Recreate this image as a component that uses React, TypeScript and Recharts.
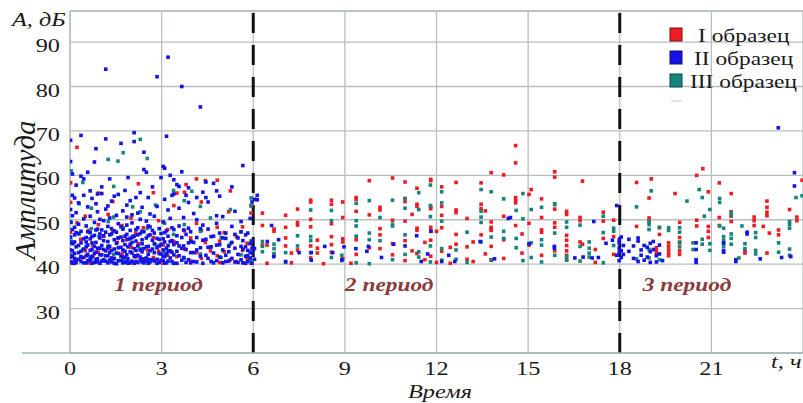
import React from "react";
import {
  ScatterChart,
  Scatter,
  XAxis,
  YAxis,
  CartesianGrid,
  ReferenceLine,
} from "recharts";

// hour ticks / amplitude ticks
const hourTicks = [0, 3, 6, 9, 12, 15, 18, 21];
const ampTicks = [30, 40, 50, 60, 70, 80, 90];
const periodNames = ["1 период", "2 период", "3 период"];
const periodCenters = [2.9, 10.45, 20.2];
const legendNames = ["I образец", "II образец", "III образец"];

// each row: [time, [amplitudes read at that time]]
const sampleI: [number, number[]][] = [
  [0.02, [58.3, 53.9, 47.2, 42.1]], [0.1, [44.8, 40.6]], [0.23, [66.3, 49.3]],
  [0.35, [45.6, 41.4]], [0.5, [50.8, 43.0]], [0.62, [47.6, 40.3]], [0.75, [44.2, 41.8]],
  [0.93, [56.0, 48.9, 42.7]], [1.1, [46.3, 40.8]], [1.25, [51.2, 43.5]],
  [1.4, [54.1, 47.4, 41.1]], [1.55, [44.9]], [1.7, [48.7, 42.3]], [1.85, [45.5, 40.5]],
  [2.0, [50.4, 43.8]], [2.15, [47.0, 41.6]], [2.24, [58.1, 44.6]], [2.4, [48.2, 40.9]],
  [2.55, [43.1]], [2.73, [56.1, 46.0, 41.5]], [2.9, [49.8, 42.9]], [3.05, [44.3, 40.2]],
  [3.2, [47.8, 42.0]], [3.4, [53.2, 45.1]], [3.5, [56.0, 41.7]], [3.75, [56.2, 47.5, 43.4]],
  [3.8, [57.9]], [3.95, [45.9, 40.7]], [4.14, [59.2, 49.2, 42.6]], [4.3, [54.0, 47.6, 41.3]],
  [4.43, [58.8, 44.9]], [4.6, [43.0]], [4.82, [58.9, 48.3, 41.9]], [4.9, [45.2, 40.4]],
  [5.05, [47.1, 42.8]], [5.2, [51.8, 44.0]], [5.25, [56.5, 41.0]], [5.45, [46.2, 40.6]],
  [5.65, [48.4, 43.1]], [5.8, [44.7, 41.2]], [5.93, [53.1, 51.5, 40.2]],
  [6.3, [51.5, 48.7, 44.3]], [6.45, [44.3, 40.2]], [6.68, [47.9, 47.4, 42.0]],
  [7.06, [51.0, 48.3, 45.9, 44.1]], [7.25, [42.5, 40.3]], [7.45, [52.4, 49.4, 48.8, 43.2]],
  [7.88, [54.4, 54.0, 50.1, 48.4, 44.1, 41.4]], [8.1, [45.4, 43.6, 42.5]], [8.3, [40.1]],
  [8.56, [54.4, 53.5, 49.1, 46.2, 44.4, 42.7]], [8.93, [54.0, 50.5, 45.7, 45.0, 41.2]],
  [9.2, [40.2]], [9.37, [55.0, 54.6, 51.9, 45.5, 42.2]], [9.8, [58.8, 51.1, 43.7]],
  [10.15, [52.8, 52.2, 48.0, 46.6, 43.5]], [10.56, [59.4, 49.9, 44.6, 42.1]],
  [10.97, [58.5, 54.8, 54.1, 49.7, 45.3, 40.8]], [11.2, [51.2, 43.0]],
  [11.36, [57.1, 53.5, 53.0, 48.1, 47.6, 42.4]], [11.62, [44.9, 41.0]],
  [11.81, [59.1, 58.8, 53.0, 52.5, 48.3, 47.5, 45.4, 41.8]], [12.0, [47.4, 40.4]],
  [12.17, [57.4, 53.0, 51.0, 48.2, 42.9]], [12.45, [43.8, 40.2]],
  [12.64, [58.4, 52.2, 51.6, 46.7, 44.5]], [13.0, [50.3, 43.9, 41.1]], [13.2, [45.0, 40.6]],
  [13.46, [58.3, 53.5, 52.5, 46.6]], [13.6, [52.0, 42.3]],
  [13.79, [60.6, 49.5, 48.3, 48.0, 47.6, 44.0, 40.9]], [14.2, [60.1, 50.8, 45.5, 41.3]],
  [14.59, [66.7, 62.8, 55.0, 54.4, 53.8, 48.7]], [14.8, [46.8, 42.5]],
  [15.03, [55.7, 49.2, 44.3]], [15.1, [56.8]], [15.44, [54.7, 50.5, 47.7, 47.2, 42.0]],
  [15.87, [60.8, 59.6, 52.4, 49.3, 48.3, 43.0]], [16.26, [51.9, 51.2, 46.5, 45.4, 44.2, 43.0, 42.0, 41.0]],
  [16.7, [50.5, 49.8, 45.0]], [16.78, [58.7, 44.5]], [17.2, [43.3, 40.4]],
  [17.46, [51.7, 49.7, 45.8]], [17.8, [49.9, 46.2, 42.2]],
  [18.55, [58.4, 48.5]], [18.96, [54.9, 50.4, 49.6]], [19.03, [59.2]],
  [19.2, [43.7, 43.0, 42.3]], [19.3, [48.2, 46.7]], [19.6, [44.8, 44.0, 43.2, 42.5, 41.9]],
  [19.81, [55.9]], [19.96, [49.4, 46.0, 44.8, 43.0, 42.2]], [20.52, [60.0, 49.9, 48.6]],
  [20.72, [61.5]], [20.9, [56.3, 48.5, 47.4, 46.0]], [21.26, [58.3, 50.5, 48.7]],
  [21.65, [55.9, 51.8, 50.8, 49.6]], [22.1, [43.0, 42.5]], [22.4, [50.6, 49.8, 48.7]],
  [22.7, [48.5]], [22.82, [54.2, 52.8, 51.7, 50.9, 42.5]], [22.9, [47.0]],
  [23.2, [47.7, 46.6]], [23.56, [52.3]], [23.8, [50.6, 49.8]], [23.97, [58.9]],
];

const sampleII: [number, number[]][] = [
  [0.02, [40.5, 43.2, 46.1, 49.5, 63.1, 67.9, 52.3, 41.6, 44.9]],
  [0.08, [41.8, 44.6, 47.8, 50.9, 60.3, 55.5, 40.2, 43.0]],
  [0.15, [40.2, 42.4, 45.0, 48.3, 54.9, 46.6, 41.3]],
  [0.2, [57.8, 51.6, 43.9, 41.0, 47.1, 40.4]],
  [0.28, [41.1, 46.9, 53.8, 49.0, 44.2, 42.6]],
  [0.36, [69.0, 40.6, 42.9, 44.8, 47.4, 59.8, 41.7]],
  [0.45, [50.2, 41.5, 45.7, 59.2, 55.5, 43.4, 40.3]],
  [0.53, [43.9, 46.0, 40.3, 48.6, 41.9, 45.0]],
  [0.58, [60.7, 42.2, 44.3, 52.9, 40.8, 47.3]],
  [0.66, [50.8, 40.9, 45.7, 47.1, 56.5, 43.1, 41.6]],
  [0.72, [41.7, 43.3, 54.8, 46.2, 40.2, 44.8]],
  [0.8, [63.0, 49.4, 40.4, 46.5, 42.4, 44.0]],
  [0.85, [66.0, 42.7, 44.9, 53.6, 41.1, 47.7]],
  [0.9, [55.8, 51.8, 41.2, 47.9, 43.6, 40.5]],
  [0.98, [43.6, 45.9, 40.2, 50.1, 42.1, 46.8]],
  [1.04, [57.4, 47.7, 42.1, 44.2, 55.9, 40.7]],
  [1.1, [49.8, 41.0, 46.4, 43.3, 45.3]],
  [1.17, [83.9, 68.2, 43.0, 40.7, 52.4, 41.9, 47.2]],
  [1.24, [48.5, 45.1, 41.9, 53.1, 40.3, 43.8]],
  [1.3, [59.2, 44.0, 42.6, 50.4, 40.9, 46.6]],
  [1.36, [40.5, 46.8, 54.2, 48.0, 43.1, 41.4]],
  [1.45, [55.3, 43.4, 45.5, 41.3, 40.2, 47.5]],
  [1.52, [47.2, 40.1, 44.7, 51.0, 42.5]],
  [1.58, [55.7, 42.4, 49.1, 40.8, 45.9, 43.7]],
  [1.67, [67.2, 46.1, 40.8, 43.8, 41.8, 48.4]],
  [1.73, [45.3, 41.6, 52.0, 47.9, 40.3, 43.2]],
  [1.8, [56.6, 42.9, 44.4, 40.4, 46.3, 41.5]],
  [1.86, [50.6, 46.7, 53.3, 48.8, 42.1, 40.6]],
  [1.9, [59.5, 41.2, 43.9, 45.6, 40.2]],
  [1.97, [45.8, 40.3, 47.6, 54.3, 42.8, 44.5]],
  [2.03, [42.5, 44.9, 49.3, 51.1, 40.7, 46.0]],
  [2.1, [69.6, 67.6, 41.8, 46.3, 43.5, 40.2]],
  [2.16, [43.1, 40.6, 45.2, 55.0, 47.8, 41.9]],
  [2.22, [48.2, 42.0, 44.1, 51.5, 40.4, 46.6]],
  [2.3, [56.1, 50.1, 40.9, 46.9, 43.2, 41.6]],
  [2.36, [42.8, 44.6, 40.5, 52.8, 47.4, 45.5]],
  [2.42, [65.2, 61.3, 47.3, 43.5, 41.2, 40.3]],
  [2.5, [60.7, 41.4, 45.9, 49.7, 43.9, 40.7]],
  [2.56, [42.2, 44.0, 40.2, 55.0, 46.4, 48.6]],
  [2.62, [46.6, 43.0, 48.4, 51.3, 41.0, 40.5]],
  [2.7, [57.4, 41.0, 45.4, 43.4, 47.6]],
  [2.76, [42.6, 40.7, 47.0, 50.8, 44.6]],
  [2.85, [82.2, 43.7, 41.1, 53.0, 45.8, 40.2]],
  [2.92, [45.6, 40.4, 48.0, 42.4, 44.1]],
  [2.98, [59.5, 42.3, 44.5, 46.9, 40.9]],
  [3.05, [62.0, 40.8, 43.2, 49.5, 45.7, 41.8]],
  [3.1, [61.6, 41.7, 45.0, 54.6, 40.3, 47.1]],
  [3.16, [68.8, 47.5, 40.3, 43.6, 42.2]],
  [3.21, [86.6, 42.9, 44.2, 52.2, 40.7, 46.3]],
  [3.28, [60.0, 50.3, 41.4, 43.0, 45.1]],
  [3.34, [55.5, 45.3, 40.6, 48.2, 42.7]],
  [3.4, [59.0, 47.8, 42.1, 55.8, 40.2, 44.4]],
  [3.5, [57.9, 44.8, 40.2, 46.4, 42.9]],
  [3.57, [57.5, 41.9, 48.6, 52.6, 44.1]],
  [3.66, [80.0, 60.8, 43.6, 40.9, 46.0]],
  [3.72, [50.5, 44.1, 41.5, 47.7]],
  [3.8, [55.5, 46.7, 40.4, 43.3]],
  [3.88, [57.2, 48.1, 41.0, 53.9, 44.8]],
  [3.95, [45.2, 40.3, 47.3, 42.6]],
  [4.05, [42.6, 44.9, 51.4, 40.6]],
  [4.15, [55.0, 40.5, 46.0, 50.0, 43.2]],
  [4.27, [75.4, 41.8, 43.7, 48.0]],
  [4.35, [56.2, 48.8, 40.2, 45.4]],
  [4.45, [58.5, 45.6, 42.0, 55.0]],
  [4.52, [54.0, 47.9, 41.3, 43.8]],
  [4.62, [43.9, 40.6, 46.2]],
  [4.7, [58.2, 46.3, 42.5, 40.3]],
  [4.8, [56.5, 49.2, 40.8, 50.9, 44.3]],
  [4.9, [55.3, 44.4, 41.6, 47.0]],
  [5.0, [43.2, 40.3, 50.7, 45.9]],
  [5.1, [45.8, 42.0, 47.0, 40.6]],
  [5.2, [40.7, 44.1, 42.8]],
  [5.3, [57.4, 41.3, 48.5, 44.9]],
  [5.4, [51.9, 43.6, 40.5, 46.7]],
  [5.5, [45.9, 42.2, 40.4]],
  [5.6, [49.6, 41.0, 44.0, 47.3]],
  [5.66, [62.2, 43.4, 40.3, 45.3]],
  [5.75, [46.6, 41.8, 43.9, 40.2]],
  [5.82, [47.0, 40.6, 43.1, 41.9]],
  [5.9, [50.3, 44.6, 41.4, 42.7]],
  [5.96, [54.0, 42.5, 40.2, 45.2, 43.6]],
  [6.04, [54.6, 43.5, 41.1]],
  [6.13, [55.5, 54.5]],
  [6.46, [45.1]], [6.6, [48.7]], [6.67, [41.7]], [6.83, [45.5]], [7.06, [40.6]],
  [7.5, [42.6]], [7.9, [42.6, 40.9]], [8.34, [44.0]], [8.6, [42.6]], [8.9, [41.0]],
  [8.97, [43.9]], [9.36, [43.5]], [9.72, [42.9]], [9.77, [44.0]], [10.2, [41.5]],
  [10.6, [44.5]], [10.97, [44.1]], [11.35, [46.4]], [11.5, [40.6]], [11.71, [42.3]],
  [11.82, [47.4]], [12.17, [40.6]], [12.4, [42.0]], [12.6, [40.6]], [13.43, [45.1]],
  [13.9, [41.2]], [14.35, [50.3]], [14.42, [50.5]], [15.03, [44.6]], [15.86, [44.0, 43.6]],
  [16.53, [41.4]], [16.8, [41.6]], [17.1, [41.4]], [17.15, [49.6]], [17.3, [41.5]],
  [17.55, [44.7]], [17.76, [45.4]], [17.9, [53.2, 42.0]],
  [17.98, [45.4, 43.6, 42.6, 44.8, 40.8]], [18.05, [46.1, 43.0, 41.5]], [18.12, [44.2, 42.2]],
  [18.3, [45.6, 42.9]], [18.45, [44.1, 41.3]], [18.6, [45.9, 45.2, 40.6]], [18.7, [43.2, 42.0]],
  [18.8, [44.2, 40.9]], [18.9, [43.8, 41.6]], [19.0, [44.7, 42.8, 40.4]], [19.1, [45.1, 43.3]],
  [19.2, [41.9, 40.5]], [19.3, [44.3, 42.3]], [19.4, [40.8]], [20.5, [44.8, 43.3, 41.0, 40.4]],
  [21.4, [44.8, 43.0, 42.7]], [21.8, [41.0, 40.6]], [22.17, [47.2, 46.8]], [22.6, [41.2]],
  [23.19, [70.7]], [23.3, [41.5]], [23.6, [41.7]], [23.72, [60.6, 57.6]],
];

const sampleIII: [number, number[]][] = [
  [0.04, [61.0, 49.4, 45.2, 42.0]], [0.3, [53.6, 46.8]], [0.42, [58.4, 43.3]],
  [0.7, [52.6, 48.0, 41.2]], [0.95, [46.2]], [1.25, [63.6, 49.6, 44.1]],
  [1.43, [57.5, 50.6, 42.2]], [1.57, [63.2, 45.9]], [1.74, [65.1, 48.2, 40.9]],
  [2.05, [52.9, 46.3]], [2.3, [68.1, 51.8, 43.5]], [2.53, [63.8, 48.1, 41.1]],
  [2.8, [53.3, 44.4]], [3.1, [49.2, 42.6]], [3.39, [56.6, 46.7]], [3.74, [54.3, 48.9, 41.3]],
  [3.99, [56.4, 45.0]], [4.27, [53.0, 47.4, 42.3]], [4.6, [50.4, 43.8]], [4.95, [46.0, 41.5]],
  [5.25, [52.3, 44.6]], [5.6, [47.3, 42.1]], [5.93, [54.9, 53.2, 45.2, 40.8]],
  [6.3, [45.1, 44.0, 42.8]], [6.68, [44.5, 43.5, 42.4]], [7.06, [42.6, 40.4]],
  [7.45, [46.4, 44.1]], [7.88, [52.2, 46.2, 45.3, 42.6]], [8.56, [52.1, 49.8, 41.5]],
  [8.9, [42.0, 40.8]], [9.37, [53.7, 49.8, 48.6, 46.3, 40.3]], [9.8, [54.3, 47.0, 45.5, 40.1]],
  [10.15, [50.5, 45.3]], [10.56, [54.4, 49.0, 48.6, 41.0]], [10.97, [54.7, 52.6, 46.6, 42.2]],
  [11.42, [56.1, 52.3, 42.8, 41.6]], [11.8, [57.8, 53.2, 50.7, 44.1, 40.5]],
  [12.17, [56.3, 53.8, 49.7, 43.5, 40.9]], [12.64, [43.2, 41.1]], [13.0, [47.2, 40.4]],
  [13.46, [56.8, 51.9, 50.6, 49.4, 45.0]], [13.79, [56.3, 46.1, 41.0]],
  [14.2, [54.7, 47.4, 45.8]], [14.61, [52.1, 45.8, 43.7]], [14.83, [55.9, 50.2, 40.8]],
  [15.1, [52.3, 44.8, 41.5]], [15.44, [52.8, 45.5, 44.3, 40.5]],
  [15.87, [53.6, 53.4, 47.0, 42.0]], [16.26, [49.5, 48.3, 41.8, 40.9]],
  [16.7, [48.8, 44.0, 40.7]], [17.0, [45.0, 43.6, 42.5, 41.6]], [17.46, [50.8, 47.1, 40.3]],
  [17.8, [48.1, 47.4, 44.2]],
  [18.55, [52.9, 41.2]], [18.96, [49.6, 48.9, 47.8, 43.3, 41.4]], [19.03, [56.5]],
  [19.3, [48.3, 41.0]], [19.6, [48.2, 47.6]], [19.96, [48.2, 47.2, 45.0, 43.9]],
  [20.2, [54.2]], [20.4, [44.8, 43.3]], [20.6, [56.8]], [20.7, [55.0, 45.6, 44.5]],
  [20.77, [50.8]], [20.95, [52.3, 44.6, 43.1]], [21.27, [54.8, 53.9, 48.6]],
  [21.4, [48.1, 46.2, 45.4, 44.6, 43.9]], [21.65, [51.6, 51.0, 46.8, 45.8, 44.5]],
  [21.9, [41.4]], [22.0, [48.6]], [22.1, [44.6, 43.5]], [22.45, [47.1, 46.0, 43.1, 42.3]],
  [23.2, [44.8, 42.7]], [23.56, [49.6, 48.9, 48.1, 43.4, 42.0]], [23.77, [55.0]],
  [23.97, [55.4]],
];

const toPoints = (rows: [number, number[]][]) =>
  rows.flatMap(([t, amps]) => amps.map((a) => ({ t, a })));

const colors = ["#ec1c24", "#1414e6", "#16857c"];
const borders = ["#7a1010", "#10106e", "#0d4a45"];
const serif = "'Liberation Serif', 'Times New Roman', serif";
const ink = "#1a1a1a";

const square = (fill: string) => (props: any) => (
  <rect x={props.cx - 1.8} y={props.cy - 1.8} width={3.6} height={3.6} fill={fill} />
);

const XTick = (props: any) => (
  <text
    transform={`translate(${props.x}, 375) scale(1.35,1)`}
    textAnchor="middle"
    fontSize={18}
    fontFamily={serif}
    fill={ink}
  >
    {props.payload.value}
  </text>
);

const YTick = (props: any) => (
  <text
    transform={`translate(60, ${props.y + 10}) scale(1.35,1)`}
    textAnchor="end"
    fontSize={18}
    fontFamily={serif}
    fill={ink}
  >
    {props.payload.value}
  </text>
);

const hourToX = (h: number) => 70 + (h / 24) * 733;

export default function App() {
  return (
    <div style={{ position: "absolute", left: 0, top: 0, width: 803, height: 403, background: "#fff" }}>
      <ScatterChart width={803} height={403} margin={{ top: 11, right: 0, left: 0, bottom: 0 }}>
        <CartesianGrid stroke="#b7bfbf" strokeWidth={1.3} />
        <XAxis
          type="number"
          dataKey="t"
          domain={[0, 24]}
          ticks={hourTicks}
          height={50}
          tickLine={false}
          axisLine={false}
          tick={<XTick />}
          allowDataOverflow
        />
        <YAxis
          type="number"
          dataKey="a"
          domain={[20, 97]}
          ticks={ampTicks}
          width={70}
          tickLine={false}
          axisLine={{ stroke: "#b7bfbf", strokeWidth: 1.3 }}
          tick={<YTick />}
          allowDataOverflow
        />
        <ReferenceLine y={97} stroke="#b7bfbf" strokeWidth={1.3} />
        <Scatter data={toPoints(sampleI)} shape={square(colors[0])} isAnimationActive={false} />
        <Scatter data={toPoints(sampleIII)} shape={square(colors[2])} isAnimationActive={false} />
        <Scatter data={toPoints(sampleII)} shape={square(colors[1])} isAnimationActive={false} />
        <ReferenceLine x={6} stroke="#111" strokeWidth={3} strokeDasharray="20 12" />
        <ReferenceLine x={18} stroke="#111" strokeWidth={3} strokeDasharray="20 12" />
      </ScatterChart>
      <svg width={803} height={403} style={{ position: "absolute", left: 0, top: 0, pointerEvents: "none" }}>
        <line x1={22} y1={353} x2={803} y2={353} stroke="#9fb6b6" strokeWidth={1.5} />
        <text transform="translate(12,26) scale(1.35,1)" fontSize={18} fontStyle="italic" fontFamily={serif} fill={ink}>
          A, дБ
        </text>
        <text
          transform="translate(35,190) rotate(-90) scale(1.25,1.3)"
          textAnchor="middle"
          fontSize={23}
          fontStyle="italic"
          fontFamily={serif}
          fill={ink}
        >
          Амплитуда
        </text>
        <text transform="translate(440,398) scale(1.35,1)" textAnchor="middle" fontSize={18} fontStyle="italic" fontFamily={serif} fill={ink}>
          Время
        </text>
        <text transform="translate(771,368) scale(1.35,1)" fontSize={18} fontStyle="italic" fontFamily={serif} fill={ink}>
          t, ч
        </text>
        {periodNames.map((name, i) => (
          <text
            key={name}
            transform={`translate(${hourToX(periodCenters[i])},291) scale(1.3,1)`}
            textAnchor="middle"
            fontSize={18}
            fontStyle="italic"
            fontWeight="bold"
            fontFamily={serif}
            fill="#8b3b3b"
          >
            {name}
          </text>
        ))}
        {legendNames.map((name, i) => (
          <g key={name}>
            <rect x={670} y={28 + i * 23} width={12} height={13} fill={colors[i]} stroke={borders[i]} strokeWidth={1} />
            <text
              transform={`translate(${698 - i * 4},${42 + i * 23}) scale(1.3,1)`}
              fontSize={18}
              fontFamily={serif}
              fill={ink}
            >
              {name}
            </text>
          </g>
        ))}
        <line x1={671} y1={101} x2={682} y2={101} stroke="#c8c8c8" strokeWidth={1} />
      </svg>
    </div>
  );
}
